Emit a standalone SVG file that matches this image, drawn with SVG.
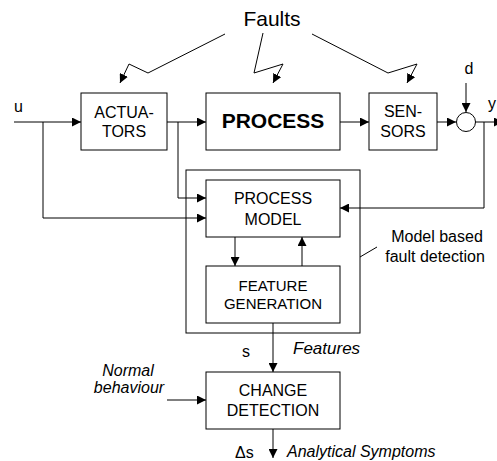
<svg xmlns="http://www.w3.org/2000/svg" width="497" height="461" viewBox="0 0 497 461">
<defs>
<marker id="ah" viewBox="0 0 10 10" refX="10" refY="5" markerWidth="9" markerHeight="9" markerUnits="userSpaceOnUse" orient="auto">
<path d="M0,0 L10,5 L0,10 Z" fill="#000"/>
</marker>
<style>
.box{fill:#fff;stroke:#000;stroke-width:1}
.ln{fill:none;stroke:#000;stroke-width:1}
.ar{fill:none;stroke:#000;stroke-width:1;marker-end:url(#ah)}
text{font-family:"Liberation Sans",Arial,sans-serif;fill:#000}
.t{font-size:16px;text-anchor:middle}
.it{font-style:italic;font-size:16px}
</style>
</defs>
<rect width="497" height="461" fill="#fff"/>
<g id="outer"><rect class="box" x="186" y="170" width="174" height="163"/></g>
<g id="connectors">
<polyline class="ar" points="225,34 148,73 129,64 120,83"/>
<polyline class="ar" points="263,33 254,73 283,64 273,83"/>
<polyline class="ar" points="312,34 388,73 417,64 407,83"/>
<line class="ar" x1="14" y1="122" x2="81" y2="122"/>
<polyline class="ar" points="43,122 43,218 206,218"/>
<line class="ar" x1="167" y1="122" x2="206" y2="122"/>
<polyline class="ar" points="178,122 178,198 206,198"/>
<line class="ar" x1="340" y1="122" x2="369" y2="122"/>
<line class="ar" x1="437" y1="122" x2="456" y2="122"/>
<line class="ar" x1="466" y1="83" x2="466" y2="112"/>
<line class="ar" x1="475" y1="122" x2="503" y2="122"/>
<polyline class="ar" points="484,122 484,208 340,208"/>
<line class="ar" x1="235" y1="237" x2="235" y2="266"/>
<line class="ar" x1="302" y1="266" x2="302" y2="237"/>
<line class="ar" x1="273" y1="323" x2="273" y2="372"/>
<line class="ar" x1="167" y1="400" x2="206" y2="400"/>
<line class="ar" x1="273" y1="429" x2="273" y2="458"/>
<line class="ln" x1="360" y1="257" x2="377" y2="247"/>
</g>
<g id="actuators"><rect class="box" x="81" y="93" width="86" height="57"/><text class="t" x="124" y="118">ACTUA-</text><text class="t" x="124" y="137">TORS</text></g>
<g id="process"><rect class="box" x="206" y="93" width="134" height="57"/><text class="t" x="273" y="128" style="font-weight:bold;font-size:21px">PROCESS</text></g>
<g id="sensors"><rect class="box" x="369" y="93" width="68" height="57"/><text class="t" x="403" y="117">SEN-</text><text class="t" x="403" y="137">SORS</text></g>
<g id="sum"><circle cx="466" cy="122" r="9.5" fill="#fff" stroke="#000" stroke-width="1"/></g>
<g id="process-model"><rect class="box" x="206" y="180" width="134" height="57"/><text class="t" x="273" y="204">PROCESS</text><text class="t" x="273" y="225">MODEL</text></g>
<g id="feature-generation"><rect class="box" x="206" y="266" width="134" height="57"/><text class="t" x="273" y="291" style="font-size:15px">FEATURE</text><text class="t" x="273" y="309" style="font-size:15px">GENERATION</text></g>
<g id="change-detection"><rect class="box" x="206" y="372" width="134" height="57"/><text class="t" x="273" y="396">CHANGE</text><text class="t" x="273" y="416">DETECTION</text></g>
<g id="labels">
<text x="272" y="26" style="font-size:21px;text-anchor:middle">Faults</text>
<text x="14" y="112" style="font-size:16px">u</text>
<text x="469" y="74" style="font-size:16px;text-anchor:middle">d</text>
<text x="488" y="109" style="font-size:16px">y</text>
<text x="437" y="242" class="t">Model based</text>
<text x="435" y="262" class="t">fault detection</text>
<text x="246" y="357" class="t">s</text>
<text x="293" y="354" class="it" style="font-size:17px">Features</text>
<text x="128" y="376" class="it" style="text-anchor:middle">Normal</text>
<text x="129" y="393" class="it" style="text-anchor:middle">behaviour</text>
<text x="235" y="458" style="font-size:16px">Δs</text>
<text x="287" y="457" class="it">Analytical Symptoms</text>
</g>
</svg>
